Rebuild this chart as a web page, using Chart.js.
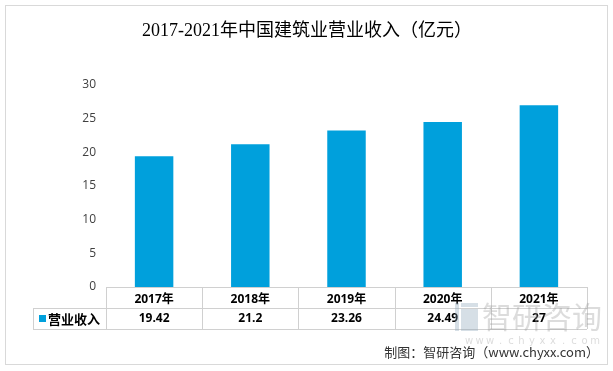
<!DOCTYPE html>
<html><head><meta charset="utf-8">
<script src="https://cdn.jsdelivr.net/npm/chart.js@4/dist/chart.umd.min.js"></script>
<style>
html,body{margin:0;padding:0;background:#fff;}
#wrap{position:relative;width:613px;height:371px;}
canvas{display:block;}
</style></head>
<body><div id="wrap"><canvas id="c" width="613" height="371"></canvas></div>
<script>
const title = "2017-2021年中国建筑业营业收入（亿元）";
const categories = ["2017年","2018年","2019年","2020年","2021年"];
const seriesName = "营业收入";
const revenue = [19.42, 21.2, 23.26, 24.49, 27];
const valueLabels = ["19.42","21.2","23.26","24.49","27"];
const yTicks = [0,5,10,15,20,25,30];
const source = "制图：智研咨询（www.chyxx.com）";

const barColor = "#00a0dc";

const tablePlugin = {
  id: "tablePlugin",
  afterDraw(chart) {
    const ctx = chart.ctx;
    const x = chart.scales.x, ca = chart.chartArea;
    const n = categories.length;
    const step = (ca.right - ca.left) / n;
    const top = ca.bottom, mid = ca.bottom + 21, bot = ca.bottom + 42;
    const legLeft = 33;
    ctx.save();
    ctx.strokeStyle = "#d0d0d0";
    ctx.lineWidth = 1;
    ctx.beginPath();
    ctx.moveTo(ca.left, top + 0.5); ctx.lineTo(ca.right, top + 0.5);
    ctx.moveTo(legLeft, mid + 0.5); ctx.lineTo(ca.right, mid + 0.5);
    ctx.moveTo(legLeft, bot + 0.5); ctx.lineTo(ca.right, bot + 0.5);
    for (let i = 0; i <= n; i++) {
      const xx = Math.round(ca.left + i * step) + 0.5;
      ctx.moveTo(xx, top); ctx.lineTo(xx, bot);
    }
    ctx.moveTo(legLeft + 0.5, mid); ctx.lineTo(legLeft + 0.5, bot);
    ctx.stroke();
    ctx.fillStyle = barColor;
    ctx.fillRect(legLeft + 6, mid + 7, 7, 7);
    ctx.fillStyle = "#000";
    ctx.font = "bold 13px 'Noto Sans CJK SC', sans-serif";
    ctx.textBaseline = "middle";
    ctx.textAlign = "left";
    ctx.fillText(seriesName, legLeft + 15, mid + 11);
    ctx.font = "bold 12px 'Open Sans', 'Noto Sans', sans-serif";
    ctx.textAlign = "center";
    for (let i = 0; i < n; i++) {
      ctx.fillText(valueLabels[i], x.getPixelForValue(i), mid + 11);
    }
    // watermark
    ctx.globalAlpha = 0.35;
    ctx.fillStyle = "#8aa3b8";
    ctx.fillRect(455, 303, 4, 28);
    ctx.fillRect(461, 303, 17, 4);
    ctx.fillRect(461, 309, 17, 22);
    ctx.fillStyle = "#9a9a9a";
    ctx.font = "30px 'Noto Sans CJK SC', sans-serif";
    ctx.textAlign = "left";
    ctx.fillText("智研咨询", 482, 317);
    ctx.font = "10px 'DejaVu Sans', sans-serif";
    ctx.textAlign = "center";
    const wm = "www.chyxx.com";
    for (let i = 0; i < wm.length; i++) {
      ctx.fillText(wm[i], 469 + i * 10.5, 341);
    }
    ctx.globalAlpha = 1;
    ctx.fillStyle = "#333";
    ctx.font = "13px 'Noto Sans CJK SC', sans-serif";
    ctx.textAlign = "right";
    ctx.fillText(source, 599, 352);
    ctx.fillStyle = "#000";
    ctx.font = "18px 'Liberation Serif', 'Noto Sans CJK SC', serif";
    ctx.textAlign = "center";
    ctx.fillText(title, 307, 31);
    ctx.strokeStyle = "#d9d9d9";
    ctx.strokeRect(5.5, 5.5, 602, 359);
    ctx.restore();
  }
};

new Chart(document.getElementById("c"), {
  type: "bar",
  data: {
    labels: categories,
    datasets: [{ label: seriesName, data: revenue, backgroundColor: barColor, barPercentage: 0.4, categoryPercentage: 1.0 }]
  },
  options: {
    responsive: false,
    animation: false,
    devicePixelRatio: 1,
    layout: { padding: { left: 0, right: 26, top: 85, bottom: 0 } },
    plugins: { legend: { display: false }, title: { display: false }, tooltip: { enabled: false } },
    scales: {
      x: {
        grid: { display: false, drawTicks: false },
        border: { display: false },
        ticks: { color: "#000", padding: 5, font: { family: "'Open Sans','Noto Sans CJK SC',sans-serif", size: 12, weight: "bold" } },
        afterFit(s) { s.height = 84; }
      },
      y: {
        min: 0, max: 30,
        afterBuildTicks(s) { s.ticks = yTicks.map(v => ({ value: v })); },
        grid: { display: false, drawTicks: false },
        border: { display: false },
        ticks: { color: "#404040", padding: 10, font: { family: "'Open Sans','Noto Sans',sans-serif", size: 12 } },
        afterFit(s) { s.width = 106; }
      }
    }
  },
  plugins: [tablePlugin]
});
</script>
</body></html>
